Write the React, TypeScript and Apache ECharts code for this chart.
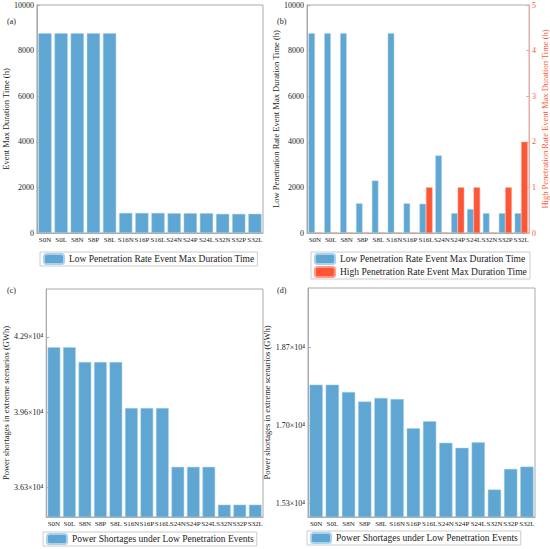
import React, { useEffect, useRef } from "react";
import * as echarts from "echarts";

const categories = ["S0N", "S0L", "S8N", "S8P", "S8L", "S16N", "S16P", "S16L", "S24N", "S24P", "S24L", "S32N", "S32P", "S32L"];
const maxDurationA = [8760, 8760, 8760, 8760, 8760, 880, 880, 880, 870, 870, 870, 840, 840, 840];
const lowDurationB = [8760, 8760, 8760, 1300, 2300, 8760, 1300, 1280, 3400, 870, 1050, 870, 870, 870];
const highDurationB = [0, 0, 0, 0, 0, 0, 0, 1, 0, 1, 1, 0, 1, 2];
const shortageC = [42450, 42450, 41800, 41800, 41800, 39780, 39780, 39780, 37200, 37200, 37200, 35540, 35540, 35540];
const shortageD = [17890, 17890, 17730, 17520, 17600, 17575, 16940, 17090, 16620, 16510, 16630, 15600, 16050, 16100];
const ticksC = [36300, 39600, 42900];
const ticksD = [15300, 17000, 18700];
const ticksLabelC = ["3.63×10⁴", "3.96×10⁴", "4.29×10⁴"];
const ticksLabelD = ["1.53×10⁴", "1.70×10⁴", "1.87×10⁴"];

const LOW_NAME = "Low Penetration Rate Event Max Duration Time";
const HIGH_NAME = "High Penetration Rate Event Max Duration Time";
const SHORT_NAME = "Power Shortages under Low Penetration Events";

const BLUE = "#5fa6d3";
const RED = "#fd5535";
const FONT = "'Liberation Serif', 'DejaVu Serif', serif";
const TXT = "#222";
const AX = "#aaaaaa";

export default function App() {
  const ref = useRef<HTMLDivElement>(null);
  useEffect(() => {
    if (!ref.current) return;
    const chart = echarts.init(ref.current, null, { renderer: "svg" });
    const axisLine = { show: true, lineStyle: { color: AX, width: 1 } };
    const axisTick = { show: true, inside: true, length: 3, lineStyle: { color: AX } };
    const catAxis = (gridIndex: number) => ({
      type: "category",
      gridIndex,
      data: categories,
      axisLine,
      axisTick: { show: false },
      axisLabel: { color: TXT, fontFamily: FONT, fontSize: 7, margin: 3, interval: 0 },
    });
    const nameStyle = { color: TXT, fontFamily: FONT, fontSize: 8.5 };
    const plain = (v: number) => String(v);
    const labelFromList = (vals: number[], labels: string[]) => (v: number) => {
      const i = vals.findIndex((t) => Math.abs(t - v) < 1);
      return i >= 0 ? labels[i] : "";
    };
    const legendBase = {
      orient: "vertical",
      itemWidth: 20,
      itemHeight: 10,
      itemGap: 1,
      borderColor: "#cccccc",
      borderWidth: 1,
      padding: [1, 3, 1, 3],
      borderRadius: 0,
      textStyle: { color: TXT, fontFamily: FONT, fontSize: 9.5 },
      selectedMode: false,
    };
    const option = {
      animation: false,
      backgroundColor: "#ffffff",
      textStyle: { fontFamily: FONT },
      grid: [
        { left: 36, right: 287, top: 5, bottom: 316, show: true, borderColor: AX, backgroundColor: "transparent" },
        { left: 307, right: 12, top: 5, bottom: 316, show: true, borderColor: AX, backgroundColor: "transparent" },
        { left: 36, right: 287, top: 289, bottom: 32, show: true, borderColor: AX, backgroundColor: "transparent" },
        { left: 308, right: 15, top: 288, bottom: 32, show: true, borderColor: AX, backgroundColor: "transparent" },
      ],
      xAxis: [catAxis(0), catAxis(1), catAxis(2), catAxis(3)],
      yAxis: [
        {
          type: "value", gridIndex: 0, min: 0, max: 10000, interval: 2000,
          name: "Event Max Duration Time (h)", nameLocation: "middle", nameGap: 23, nameTextStyle: nameStyle,
          axisLine, axisTick, splitLine: { show: false },
          axisLabel: { color: TXT, fontFamily: FONT, fontSize: 8, margin: 3, formatter: plain },
        },
        {
          type: "value", gridIndex: 1, min: 0, max: 10000, interval: 2000,
          name: "Low Penetration Rate Event Max Duration Time (h)", nameLocation: "middle", nameGap: 27, nameTextStyle: nameStyle,
          axisLine, axisTick, splitLine: { show: false },
          axisLabel: { color: TXT, fontFamily: FONT, fontSize: 8, margin: 3, formatter: plain },
        },
        {
          type: "value", gridIndex: 1, min: 0, max: 5, interval: 1, position: "right",
          name: "High Penetration Rate Event Max Duration Time (h)", nameLocation: "middle", nameGap: 9,
          nameTextStyle: { ...nameStyle, color: RED },
          axisLine: { show: true, lineStyle: { color: "#f7a8a0", width: 1 } },
          axisTick: { show: true, inside: true, length: 3, lineStyle: { color: "#f7a8a0" } },
          splitLine: { show: false },
          axisLabel: { color: RED, fontFamily: FONT, fontSize: 8, margin: 3 },
        },
        {
          type: "value", gridIndex: 2, min: 35000, max: 45000,
          name: "Power shortages in extreme scenarios (GWh)", nameLocation: "middle", nameGap: 30, nameTextStyle: nameStyle,
          axisLine,
          axisTick: { ...axisTick, customValues: ticksC },
          splitLine: { show: false },
          axisLabel: { color: TXT, fontFamily: FONT, fontSize: 8, margin: 3, customValues: ticksC, formatter: labelFromList(ticksC, ticksLabelC) },
        },
        {
          type: "value", gridIndex: 3, min: 15000, max: 20000,
          name: "Power shortages in extreme scenarios (GWh)", nameLocation: "middle", nameGap: 30, nameTextStyle: nameStyle,
          axisLine,
          axisTick: { ...axisTick, customValues: ticksD },
          splitLine: { show: false },
          axisLabel: { color: TXT, fontFamily: FONT, fontSize: 8, margin: 3, customValues: ticksD, formatter: labelFromList(ticksD, ticksLabelD) },
        },
      ],
      legend: [
        { ...legendBase, left: 40, top: 252, data: [LOW_NAME] },
        { ...legendBase, left: 311, top: 252, data: [LOW_NAME, HIGH_NAME] },
        { ...legendBase, left: 43, top: 532, data: [SHORT_NAME] },
        { ...legendBase, left: 307, top: 531, data: [SHORT_NAME] },
      ],
      graphic: [
        { type: "text", left: 7, top: 17, style: { text: "(a)", fill: TXT, fontFamily: FONT, fontSize: 8 } },
        { type: "text", left: 277, top: 17, style: { text: "(b)", fill: TXT, fontFamily: FONT, fontSize: 8 } },
        { type: "text", left: 7, top: 286, style: { text: "(c)", fill: TXT, fontFamily: FONT, fontSize: 8 } },
        { type: "text", left: 277, top: 286, style: { text: "(d)", fill: TXT, fontFamily: FONT, fontSize: 8 } },
      ],
      series: [
        {
          name: LOW_NAME, type: "bar", xAxisIndex: 0, yAxisIndex: 0, data: maxDurationA,
          barCategoryGap: "18%", itemStyle: { color: BLUE, borderColor: "#a9d2ec", borderWidth: 0.5 },
        },
        {
          name: LOW_NAME, type: "bar", xAxisIndex: 1, yAxisIndex: 1, data: lowDurationB,
          barGap: "0%", barCategoryGap: "18%", itemStyle: { color: BLUE, borderColor: "#a9d2ec", borderWidth: 0.5 },
        },
        {
          name: HIGH_NAME, type: "bar", xAxisIndex: 1, yAxisIndex: 2, data: highDurationB,
          barGap: "0%", barCategoryGap: "18%", itemStyle: { color: RED, borderColor: "#fd9a88", borderWidth: 0.5 },
        },
        {
          name: SHORT_NAME, type: "bar", xAxisIndex: 2, yAxisIndex: 3, data: shortageC,
          barCategoryGap: "18%", itemStyle: { color: BLUE, borderColor: "#a9d2ec", borderWidth: 0.5 },
        },
        {
          name: SHORT_NAME, type: "bar", xAxisIndex: 3, yAxisIndex: 4, data: shortageD,
          barCategoryGap: "18%", itemStyle: { color: BLUE, borderColor: "#a9d2ec", borderWidth: 0.5 },
        },
      ],
    };
    chart.setOption(option as any);
    return () => chart.dispose();
  }, []);
  return <div ref={ref} style={{ position: "fixed", left: 0, top: 0, width: 550, height: 549, background: "#fff" }} />;
}
